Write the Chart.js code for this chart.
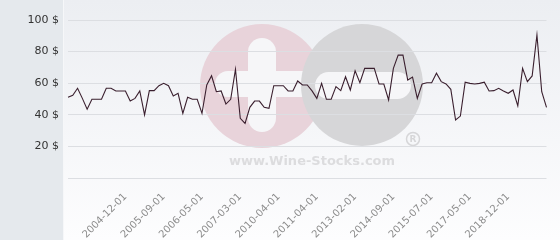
<!DOCTYPE html>
<html>
<head>
<meta charset="utf-8">
<script src="https://cdn.jsdelivr.net/npm/chart.js@4.4.0/dist/chart.umd.min.js"></script>
<style>
    html, body { margin: 0; padding: 0; background: #ffffff; }
    #caja { position: relative; width: 560px; height: 240px; }
</style>
</head>
<body>
<div id="caja"><canvas id="grafico"></canvas></div>
<script>
// fechas de cada subasta (eje x)
const fechas = [
    '2003-12-01', '2004-01-01', '2004-02-01', '2004-03-01', '2004-04-01', '2004-05-01',
    '2004-06-01', '2004-07-01', '2004-08-01', '2004-09-01', '2004-10-01', '2004-11-01',
    '2004-12-01', '2005-01-01', '2005-02-01', '2005-03-01', '2005-04-01', '2005-05-01',
    '2005-06-01', '2005-08-01', '2005-09-01', '2005-10-01', '2005-11-01', '2005-12-01',
    '2006-01-01', '2006-02-01', '2006-03-01', '2006-04-01', '2006-05-01', '2006-06-01',
    '2006-07-01', '2006-09-01', '2006-10-01', '2006-11-01', '2007-01-01', '2007-02-01',
    '2007-03-01', '2007-06-01', '2007-11-01', '2008-05-01', '2008-10-01', '2009-03-01',
    '2009-08-01', '2010-01-01', '2010-04-01', '2010-05-01', '2010-07-01', '2010-08-01',
    '2010-10-01', '2010-11-01', '2011-01-01', '2011-03-01', '2011-04-01', '2011-07-01',
    '2011-10-01', '2012-01-01', '2012-04-01', '2012-07-01', '2012-09-01', '2012-11-01',
    '2013-02-01', '2013-05-01', '2013-07-01', '2013-10-01', '2014-01-01', '2014-03-01',
    '2014-05-01', '2014-07-01', '2014-09-01', '2014-10-01', '2014-11-01', '2014-12-01',
    '2015-02-01', '2015-03-01', '2015-04-01', '2015-06-01', '2015-07-01', '2015-10-01',
    '2016-01-01', '2016-04-01', '2016-07-01', '2016-10-01', '2017-01-01', '2017-03-01',
    '2017-05-01', '2017-08-01', '2017-10-01', '2018-01-01', '2018-03-01', '2018-06-01',
    '2018-08-01', '2018-10-01', '2018-12-01', '2019-02-01', '2019-04-01', '2019-06-01',
    '2019-08-01', '2019-10-01', '2019-12-01', '2020-02-01', '2020-04-01'
];

// precio en $
const precios = [
    51.1, 52.3, 56.8, 50.4, 43.5, 49.8, 49.8, 49.8, 56.8, 56.8, 55.1, 55.1,
    55.1, 48.7, 50.4, 55.1, 39.9, 55.3, 55.3, 58.4,
    59.9, 58.4, 51.9, 53.6, 40.9, 51.1, 49.8, 49.8,
    40.9, 58.9, 64.7, 54.6, 55.1, 46.8, 49.8, 68.8,
    37.8, 34.6, 44.7, 48.7, 48.7, 44.7, 44.1, 58.4,
    58.4, 58.4, 55.1, 55.1, 61.4, 58.9, 58.9, 55.1,
    50.4, 59.9, 49.8, 49.8, 57.8, 55.3, 64.1, 55.7,
    67.9, 60.3, 69.4, 69.4, 69.4, 59.5, 59.5, 49.4,
    69.4, 77.8, 77.8, 62.0, 63.9, 50.4, 59.5, 60.3,
    60.3, 66.3, 61.0, 59.5, 56.1, 36.7, 39.2, 60.6,
    59.9, 59.5, 59.9, 60.6, 55.1, 55.3, 56.8, 55.1,
    53.6, 55.7, 45.6, 69.4, 61.0, 64.6, 90.5, 54.6, 44.7
];

// etiquetas que se ven en el eje x
const etiquetasX = [
    '2004-12-01', '2005-09-01', '2006-05-01', '2007-03-01', '2010-04-01', '2011-04-01',
    '2013-02-01', '2014-09-01', '2015-07-01', '2017-05-01', '2018-12-01'
];

// marcas del eje y
const marcasY = [20, 40, 60, 80, 100];


function pill(ctx, x, y, w, h) {
    ctx.beginPath();
    ctx.roundRect(x, y, w, h, Math.min(w, h) / 2);
    ctx.fill();
}

const fondo = {
    id: 'fondo',
    beforeDraw(chart) {
        const ctx = chart.ctx;
        const w = chart.width, h = chart.height;
        ctx.save();
        var grad = ctx.createLinearGradient(0, 0, 0, h);
        grad.addColorStop(0, '#eceef2');
        grad.addColorStop(1, '#fdfdfe');
        ctx.fillStyle = grad;
        ctx.fillRect(0, 0, w, h);
        ctx.fillStyle = '#e5e9ed';
        ctx.fillRect(0, 0, 63, h);
        ctx.fillStyle = '#f6f7f9';
        ctx.fillRect(63, 0, 1, h);

        // marca de agua
        ctx.fillStyle = '#e8d3da';
        ctx.beginPath();
        ctx.arc(262, 86, 62, 0, Math.PI * 2);
        ctx.fill();
        ctx.fillStyle = '#f6f6f8';
        pill(ctx, 248, 38, 28, 94);
        pill(ctx, 215, 71, 110, 26);
        ctx.fillStyle = '#d6d6d8';
        ctx.beginPath();
        ctx.arc(362, 85, 61, 0, Math.PI * 2);
        ctx.fill();
        ctx.fillStyle = '#f6f6f8';
        pill(ctx, 315, 72, 96, 27);

        ctx.fillStyle = '#dcdcde';
        ctx.font = 'bold 13px "DejaVu Sans"';
        ctx.textAlign = 'center';
        ctx.textBaseline = 'middle';
        ctx.fillText('www.Wine-Stocks.com', 312, 162);
        ctx.strokeStyle = '#d6d6d8';
        ctx.lineWidth = 1.5;
        ctx.beginPath();
        ctx.arc(413, 139, 6.5, 0, Math.PI * 2);
        ctx.stroke();
        ctx.fillStyle = '#d6d6d8';
        ctx.font = 'bold 9px "DejaVu Sans"';
        ctx.fillText('R', 413, 139.5);
        ctx.restore();
    }
};

Chart.defaults.font.family = '"DejaVu Sans"';

new Chart(document.getElementById('grafico'), {
    type: 'line',
    data: {
        labels: fechas,
        datasets: [{
            data: precios,
            borderColor: '#3a1f2e',
            borderWidth: 1.1,
            pointRadius: 0,
            tension: 0,
            fill: false
        }]
    },
    options: {
        responsive: true,
        maintainAspectRatio: false,
        animation: false,
        layout: { padding: { top: 20, right: 5, left: 0, bottom: 0 } },
        plugins: { legend: { display: false }, tooltip: { enabled: false } },
        scales: {
            x: {
                grid: { display: false },
                border: { display: false },
                ticks: {
                    autoSkip: false,
                    minRotation: 45,
                    maxRotation: 45,
                    padding: 5,
                    color: '#8c8c8c',
                    font: { size: 10 },
                    callback: function (val, i) {
                        let lab = fechas[i];
                        return etiquetasX.includes(lab) ? lab : '';
                    }
                },
                afterFit: (scale) => { scale.height = 62; }
            },
            y: {
                min: 0,
                max: 100,
                grid: { color: '#dcdee2', drawTicks: false },
                border: { display: false },
                ticks: {
                    stepSize: 20,
                    padding: 9,
                    color: '#333333',
                    font: { size: 11 },
                    callback: function (val) {
                        return marcasY.includes(val) ? val + ' $' : '';
                    }
                },
                afterFit: (scale) => { scale.width = 68; }
            }
        }
    },
    plugins: [fondo]
});
</script>
</body>
</html>
